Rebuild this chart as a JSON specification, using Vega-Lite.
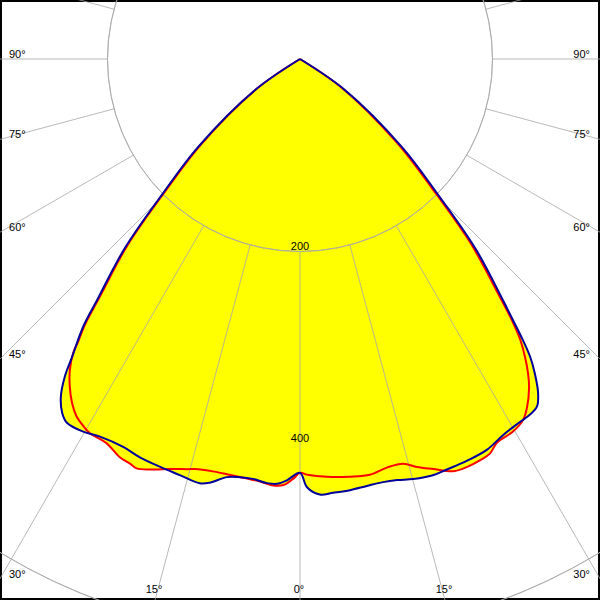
{
  "$schema": "https://vega.github.io/schema/vega-lite/v6.json",
  "width": 600,
  "height": 600,
  "autosize": {"type": "none"},
  "padding": 0,
  "config": {
    "view": {"stroke": "#000000", "strokeWidth": 4},
    "text": {"font": "Liberation Sans", "fontSize": 11, "color": "#000000"}
  },
  "datasets": {
    "curves": [
      {"s": "b", "a": -90, "c": 0}, {"s": "b", "a": -55.4, "c": 57}, {"s": "b", "a": -49.2, "c": 140}, {"s": "b", "a": -45.6, "c": 199},
      {"s": "b", "a": -42.8, "c": 268}, {"s": "b", "a": -40.1, "c": 327}, {"s": "b", "a": -39.0, "c": 358}, {"s": "b", "a": -37.4, "c": 390},
      {"s": "b", "a": -36.5, "c": 411}, {"s": "b", "a": -35.3, "c": 430}, {"s": "b", "a": -33.9, "c": 443}, {"s": "b", "a": -32.6, "c": 449},
      {"s": "b", "a": -30.2, "c": 448}, {"s": "b", "a": -27.9, "c": 444}, {"s": "b", "a": -24.5, "c": 443}, {"s": "b", "a": -21.9, "c": 446},
      {"s": "b", "a": -18.9, "c": 448}, {"s": "b", "a": -16.1, "c": 450}, {"s": "b", "a": -13.3, "c": 453}, {"s": "b", "a": -12.0, "c": 450},
      {"s": "b", "a": -9.9, "c": 441}, {"s": "b", "a": -8.2, "c": 439}, {"s": "b", "a": -6.4, "c": 439}, {"s": "b", "a": -4.45, "c": 442},
      {"s": "b", "a": -3.1, "c": 442}, {"s": "b", "a": -1.8, "c": 438}, {"s": "b", "a": 0, "c": 430}, {"s": "b", "a": 0.94, "c": 445},
      {"s": "b", "a": 2.6, "c": 453}, {"s": "b", "a": 4.35, "c": 452}, {"s": "b", "a": 6.6, "c": 451}, {"s": "b", "a": 8.9, "c": 449},
      {"s": "b", "a": 11.1, "c": 448}, {"s": "b", "a": 13.0, "c": 449}, {"s": "b", "a": 15.1, "c": 452}, {"s": "b", "a": 17.7, "c": 454},
      {"s": "b", "a": 19.7, "c": 453}, {"s": "b", "a": 22.6, "c": 452}, {"s": "b", "a": 25.6, "c": 450}, {"s": "b", "a": 28.4, "c": 444},
      {"s": "b", "a": 31.2, "c": 441}, {"s": "b", "a": 32.9, "c": 440}, {"s": "b", "a": 34.3, "c": 437}, {"s": "b", "a": 35.5, "c": 426},
      {"s": "b", "a": 36.8, "c": 407}, {"s": "b", "a": 37.7, "c": 391}, {"s": "b", "a": 38.4, "c": 373}, {"s": "b", "a": 39.2, "c": 350},
      {"s": "b", "a": 40.1, "c": 327}, {"s": "b", "a": 42.8, "c": 268}, {"s": "b", "a": 45.6, "c": 199}, {"s": "b", "a": 49.2, "c": 140},
      {"s": "b", "a": 55.4, "c": 57}, {"s": "b", "a": 90, "c": 0},

      {"s": "r", "a": -90, "c": 0}, {"s": "r", "a": -55.4, "c": 55}, {"s": "r", "a": -49.2, "c": 136}, {"s": "r", "a": -45.6, "c": 195},
      {"s": "r", "a": -42.8, "c": 264}, {"s": "r", "a": -40.1, "c": 323}, {"s": "r", "a": -39.0, "c": 355}, {"s": "r", "a": -38.1, "c": 374},
      {"s": "r", "a": -37.7, "c": 385}, {"s": "r", "a": -36.5, "c": 402}, {"s": "r", "a": -35.1, "c": 416}, {"s": "r", "a": -33.5, "c": 429},
      {"s": "r", "a": -32.0, "c": 438}, {"s": "r", "a": -30.5, "c": 443}, {"s": "r", "a": -29.3, "c": 446}, {"s": "r", "a": -26.7, "c": 447},
      {"s": "r", "a": -24.4, "c": 454}, {"s": "r", "a": -22.8, "c": 456}, {"s": "r", "a": -21.75, "c": 458}, {"s": "r", "a": -19.7, "c": 453},
      {"s": "r", "a": -17.6, "c": 447}, {"s": "r", "a": -15.4, "c": 442}, {"s": "r", "a": -13.9, "c": 439}, {"s": "r", "a": -12.3, "c": 438},
      {"s": "r", "a": -10.0, "c": 438}, {"s": "r", "a": -7.7, "c": 439}, {"s": "r", "a": -5.4, "c": 441}, {"s": "r", "a": -3.6, "c": 444},
      {"s": "r", "a": -2.2, "c": 443}, {"s": "r", "a": -0.9, "c": 436}, {"s": "r", "a": 0, "c": 430}, {"s": "r", "a": 1.0, "c": 432},
      {"s": "r", "a": 3.7, "c": 435}, {"s": "r", "a": 6.8, "c": 437}, {"s": "r", "a": 9.55, "c": 438}, {"s": "r", "a": 12.0, "c": 434},
      {"s": "r", "a": 14.3, "c": 434}, {"s": "r", "a": 16.0, "c": 441}, {"s": "r", "a": 18.0, "c": 448}, {"s": "r", "a": 20.4, "c": 457},
      {"s": "r", "a": 22.3, "c": 458}, {"s": "r", "a": 24.2, "c": 457}, {"s": "r", "a": 25.7, "c": 455}, {"s": "r", "a": 27.2, "c": 448},
      {"s": "r", "a": 29.7, "c": 446}, {"s": "r", "a": 31.7, "c": 441}, {"s": "r", "a": 33.1, "c": 432}, {"s": "r", "a": 34.9, "c": 416},
      {"s": "r", "a": 36.0, "c": 403}, {"s": "r", "a": 37.05, "c": 388}, {"s": "r", "a": 38.1, "c": 371}, {"s": "r", "a": 39.1, "c": 348},
      {"s": "r", "a": 40.1, "c": 321}, {"s": "r", "a": 42.8, "c": 261}, {"s": "r", "a": 45.6, "c": 192}, {"s": "r", "a": 49.2, "c": 133},
      {"s": "r", "a": 55.4, "c": 53}, {"s": "r", "a": 90, "c": 0}
    ],
    "circles": [{"r": 200}, {"r": 400}, {"r": 600}, {"r": 800}],
    "spokes": [
      {"a": 0}, {"a": 15}, {"a": 30}, {"a": 45}, {"a": 60}, {"a": 75}, {"a": 90}, {"a": 105},
      {"a": 120}, {"a": 135}, {"a": 150}, {"a": 165}, {"a": 180}, {"a": 195}, {"a": 210}, {"a": 225},
      {"a": 240}, {"a": 255}, {"a": 270}, {"a": 285}, {"a": 300}, {"a": 315}, {"a": 330}, {"a": 345}
    ],
    "labels": [
      {"t": "90°", "a": -90, "r": 311.7, "p": "l"}, {"t": "75°", "a": -75, "r": 322.7, "p": "l"},
      {"t": "60°", "a": -60, "r": 359.9, "p": "l"}, {"t": "45°", "a": -45, "r": 440.8, "p": "l"},
      {"t": "30°", "a": -30, "r": 623.4, "p": "l"},
      {"t": "90°", "a": 90, "r": 311.7, "p": "r"}, {"t": "75°", "a": 75, "r": 322.7, "p": "r"},
      {"t": "60°", "a": 60, "r": 359.9, "p": "r"}, {"t": "45°", "a": 45, "r": 440.8, "p": "r"},
      {"t": "30°", "a": 30, "r": 623.4, "p": "r"},
      {"t": "15°", "a": -15, "r": 581.9, "p": "b"}, {"t": "0°", "a": 0, "r": 562.1, "p": "b"},
      {"t": "15°", "a": 15, "r": 581.9, "p": "b"},
      {"t": "200", "a": 0, "r": 200, "p": "c"}, {"t": "400", "a": 0, "r": 400, "p": "c"}
    ]
  },
  "layer": [
    {
      "data": {"name": "curves"},
      "transform": [
        {"calculate": "datum.c * sin(datum.a * PI / 180)", "as": "x"},
        {"calculate": "-datum.c * cos(datum.a * PI / 180)", "as": "y"}
      ],
      "mark": {"type": "line", "interpolate": "catmull-rom", "fill": "#ffff00", "stroke": "#ffff00", "strokeWidth": 1, "clip": true},
      "encoding": {
        "x": {"field": "x", "type": "quantitative", "axis": null, "scale": {"domain": [-311.7, 311.7], "nice": false, "zero": false}},
        "y": {"field": "y", "type": "quantitative", "axis": null, "scale": {"domain": [-562.1, 61.3], "nice": false, "zero": false}},
        "detail": {"field": "s"},
        "order": {"field": "a", "type": "quantitative"}
      }
    },
    {
      "data": {"name": "circles"},
      "mark": {"type": "arc", "filled": false, "fill": null, "stroke": "#a8a8a8", "strokeOpacity": 0.8, "strokeWidth": 1, "theta": 0, "theta2": 6.2832, "clip": true},
      "encoding": {
        "x": {"datum": 0, "type": "quantitative"},
        "y": {"datum": 0, "type": "quantitative"},
        "radius": {"field": "r", "type": "quantitative", "legend": null, "scale": {"type": "linear", "domain": [0, 311.7], "range": [0, 300], "zero": true, "nice": false}}
      }
    },
    {
      "data": {"name": "spokes"},
      "transform": [
        {"calculate": "200 * sin(datum.a * PI / 180)", "as": "x"},
        {"calculate": "-200 * cos(datum.a * PI / 180)", "as": "y"},
        {"calculate": "1200 * sin(datum.a * PI / 180)", "as": "x2"},
        {"calculate": "-1200 * cos(datum.a * PI / 180)", "as": "y2"}
      ],
      "mark": {"type": "rule", "stroke": "#a8a8a8", "strokeOpacity": 0.8, "strokeWidth": 1, "clip": true},
      "encoding": {
        "x": {"field": "x", "type": "quantitative"},
        "y": {"field": "y", "type": "quantitative"},
        "x2": {"field": "x2"},
        "y2": {"field": "y2"}
      }
    },
    {
      "data": {"name": "curves"},
      "transform": [
        {"filter": "datum.s === 'r'"},
        {"calculate": "datum.c * sin(datum.a * PI / 180)", "as": "x"},
        {"calculate": "-datum.c * cos(datum.a * PI / 180)", "as": "y"}
      ],
      "mark": {"type": "line", "interpolate": "catmull-rom", "stroke": "#ff0000", "strokeWidth": 2, "clip": true},
      "encoding": {
        "x": {"field": "x", "type": "quantitative"},
        "y": {"field": "y", "type": "quantitative"},
        "order": {"field": "a", "type": "quantitative"}
      }
    },
    {
      "data": {"name": "curves"},
      "transform": [
        {"filter": "datum.s === 'b'"},
        {"calculate": "datum.c * sin(datum.a * PI / 180)", "as": "x"},
        {"calculate": "-datum.c * cos(datum.a * PI / 180)", "as": "y"}
      ],
      "mark": {"type": "line", "interpolate": "catmull-rom", "stroke": "#00009c", "strokeWidth": 2, "clip": true},
      "encoding": {
        "x": {"field": "x", "type": "quantitative"},
        "y": {"field": "y", "type": "quantitative"},
        "order": {"field": "a", "type": "quantitative"}
      }
    },
    {
      "data": {"name": "labels"},
      "transform": [
        {"filter": "datum.p === 'l'"},
        {"calculate": "datum.r * sin(datum.a * PI / 180)", "as": "x"},
        {"calculate": "-datum.r * cos(datum.a * PI / 180)", "as": "y"}
      ],
      "mark": {"type": "text", "align": "left", "baseline": "alphabetic", "dx": 9, "dy": -1},
      "encoding": {
        "x": {"field": "x", "type": "quantitative"},
        "y": {"field": "y", "type": "quantitative"},
        "text": {"field": "t"}
      }
    },
    {
      "data": {"name": "labels"},
      "transform": [
        {"filter": "datum.p === 'r'"},
        {"calculate": "datum.r * sin(datum.a * PI / 180)", "as": "x"},
        {"calculate": "-datum.r * cos(datum.a * PI / 180)", "as": "y"}
      ],
      "mark": {"type": "text", "align": "right", "baseline": "alphabetic", "dx": -10, "dy": -1},
      "encoding": {
        "x": {"field": "x", "type": "quantitative"},
        "y": {"field": "y", "type": "quantitative"},
        "text": {"field": "t"}
      }
    },
    {
      "data": {"name": "labels"},
      "transform": [
        {"filter": "datum.p === 'b'"},
        {"calculate": "datum.r * sin(datum.a * PI / 180)", "as": "x"},
        {"calculate": "-datum.r * cos(datum.a * PI / 180)", "as": "y"}
      ],
      "mark": {"type": "text", "align": "center", "baseline": "alphabetic", "dx": -1, "dy": -7},
      "encoding": {
        "x": {"field": "x", "type": "quantitative"},
        "y": {"field": "y", "type": "quantitative"},
        "text": {"field": "t"}
      }
    },
    {
      "data": {"name": "labels"},
      "transform": [
        {"filter": "datum.p === 'c'"},
        {"calculate": "datum.r * sin(datum.a * PI / 180)", "as": "x"},
        {"calculate": "-datum.r * cos(datum.a * PI / 180)", "as": "y"}
      ],
      "mark": {"type": "text", "align": "center", "baseline": "alphabetic", "dx": 0, "dy": -1.5},
      "encoding": {
        "x": {"field": "x", "type": "quantitative"},
        "y": {"field": "y", "type": "quantitative"},
        "text": {"field": "t"}
      }
    }
  ]
}
